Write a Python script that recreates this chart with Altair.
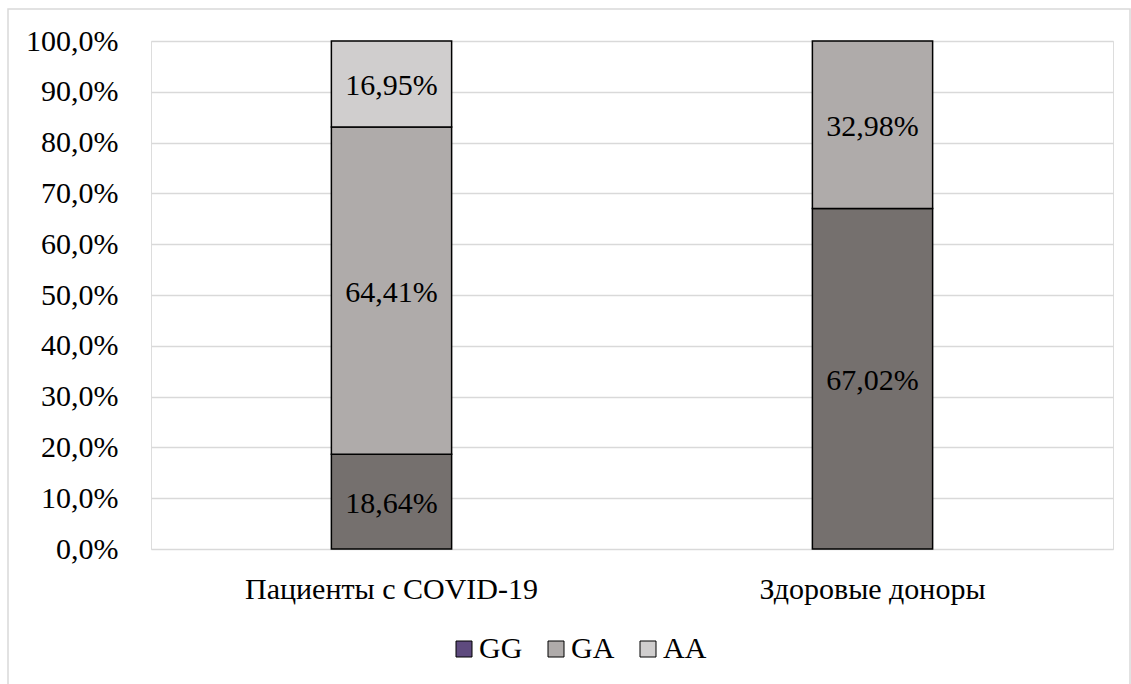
import altair as alt
import pandas as pd

groups = ["Пациенты с COVID-19", "Здоровые доноры"]
genotypes = ["GG", "GA", "AA"]
gg = [18.64, 67.02]
ga = [64.41, 32.98]
aa = [16.95, 0.0]

bar_colors = ["#75706E", "#AFABAA", "#D0CECE"]
legend_colors = ["#5E4A7E", "#AFABAA", "#D0CECE"]

rows = []
for i, g in enumerate(groups):
    start = 0.0
    for gt, vals in zip(genotypes, [gg, ga, aa]):
        v = vals[i]
        if v > 0:
            rows.append({
                "group": g, "genotype": gt, "value": v,
                "y0": start, "y1": start + v, "mid": start + v / 2,
                "label": ("%.2f" % v).replace(".", ",") + "%",
            })
        start += v
df = pd.DataFrame(rows)

FONT = "Liberation Serif"
FS = 30

x_enc = alt.X("group:N", sort=groups, title=None,
              scale=alt.Scale(paddingInner=0.75, paddingOuter=0.375),
              axis=alt.Axis(labelFont=FONT, labelFontSize=FS, labelColor="black",
                            labelPadding=25, ticks=False, domain=False, labelAngle=0,
                            labelLimit=0))

bars = alt.Chart(df).mark_bar(stroke="black", strokeWidth=1.5).encode(
    x=x_enc,
    y=alt.Y("y0:Q", title=None,
            scale=alt.Scale(domain=[0, 100], nice=False),
            axis=alt.Axis(values=list(range(0, 101, 10)),
                          labelExpr="replace(format(datum.value, '.1f'), '.', ',') + '%'",
                          labelFont=FONT, labelFontSize=FS, labelColor="black",
                          labelPadding=33, ticks=False, domain=False,
                          grid=True, gridColor="#D9D9D9", gridWidth=1.5)),
    y2="y1:Q",
    fill=alt.Fill("genotype:N", sort=genotypes,
                  scale=alt.Scale(domain=genotypes, range=bar_colors),
                  legend=None),
)

legend_layer = alt.Chart(df).mark_square(filled=True, opacity=0).encode(
    x=alt.X("group:N", sort=groups),
    y=alt.Y("mid:Q"),
    color=alt.Color("genotype:N", sort=genotypes, title=None,
                    scale=alt.Scale(domain=genotypes, range=legend_colors),
                    legend=alt.Legend(orient="none", direction="horizontal",
                                      legendX=298, legendY=593, padding=0,
                                      symbolType="square", symbolSize=256,
                                      symbolStrokeColor="black", symbolStrokeWidth=1,
                                      symbolOpacity=1,
                                      labelFont=FONT, labelFontSize=FS, labelColor="black",
                                      columnPadding=18, labelOffset=0)),
)

texts = alt.Chart(df).mark_text(font=FONT, fontSize=FS, color="black", dy=2).encode(
    x=alt.X("group:N", sort=groups),
    y=alt.Y("mid:Q"),
    text="label:N",
)

border = alt.Chart(pd.DataFrame({"b": [0]})).mark_rect(
    fill=None, stroke="#D9D9D9", strokeWidth=1.5
).encode(
    x=alt.value(-143), x2=alt.value(979), y=alt.value(-32), y2=alt.value(700)
)

chart = alt.layer(border, bars, legend_layer, texts).resolve_scale(
    color="independent", fill="independent"
).properties(
    width=962, height=508,
    autosize=alt.AutoSizeParams(type="none"),
    padding={"left": 151, "top": 41, "right": 18, "bottom": 135},
).configure_view(stroke=None).configure(background="white")

chart.save("out.html", embed_options={"renderer": "svg", "actions": False})
